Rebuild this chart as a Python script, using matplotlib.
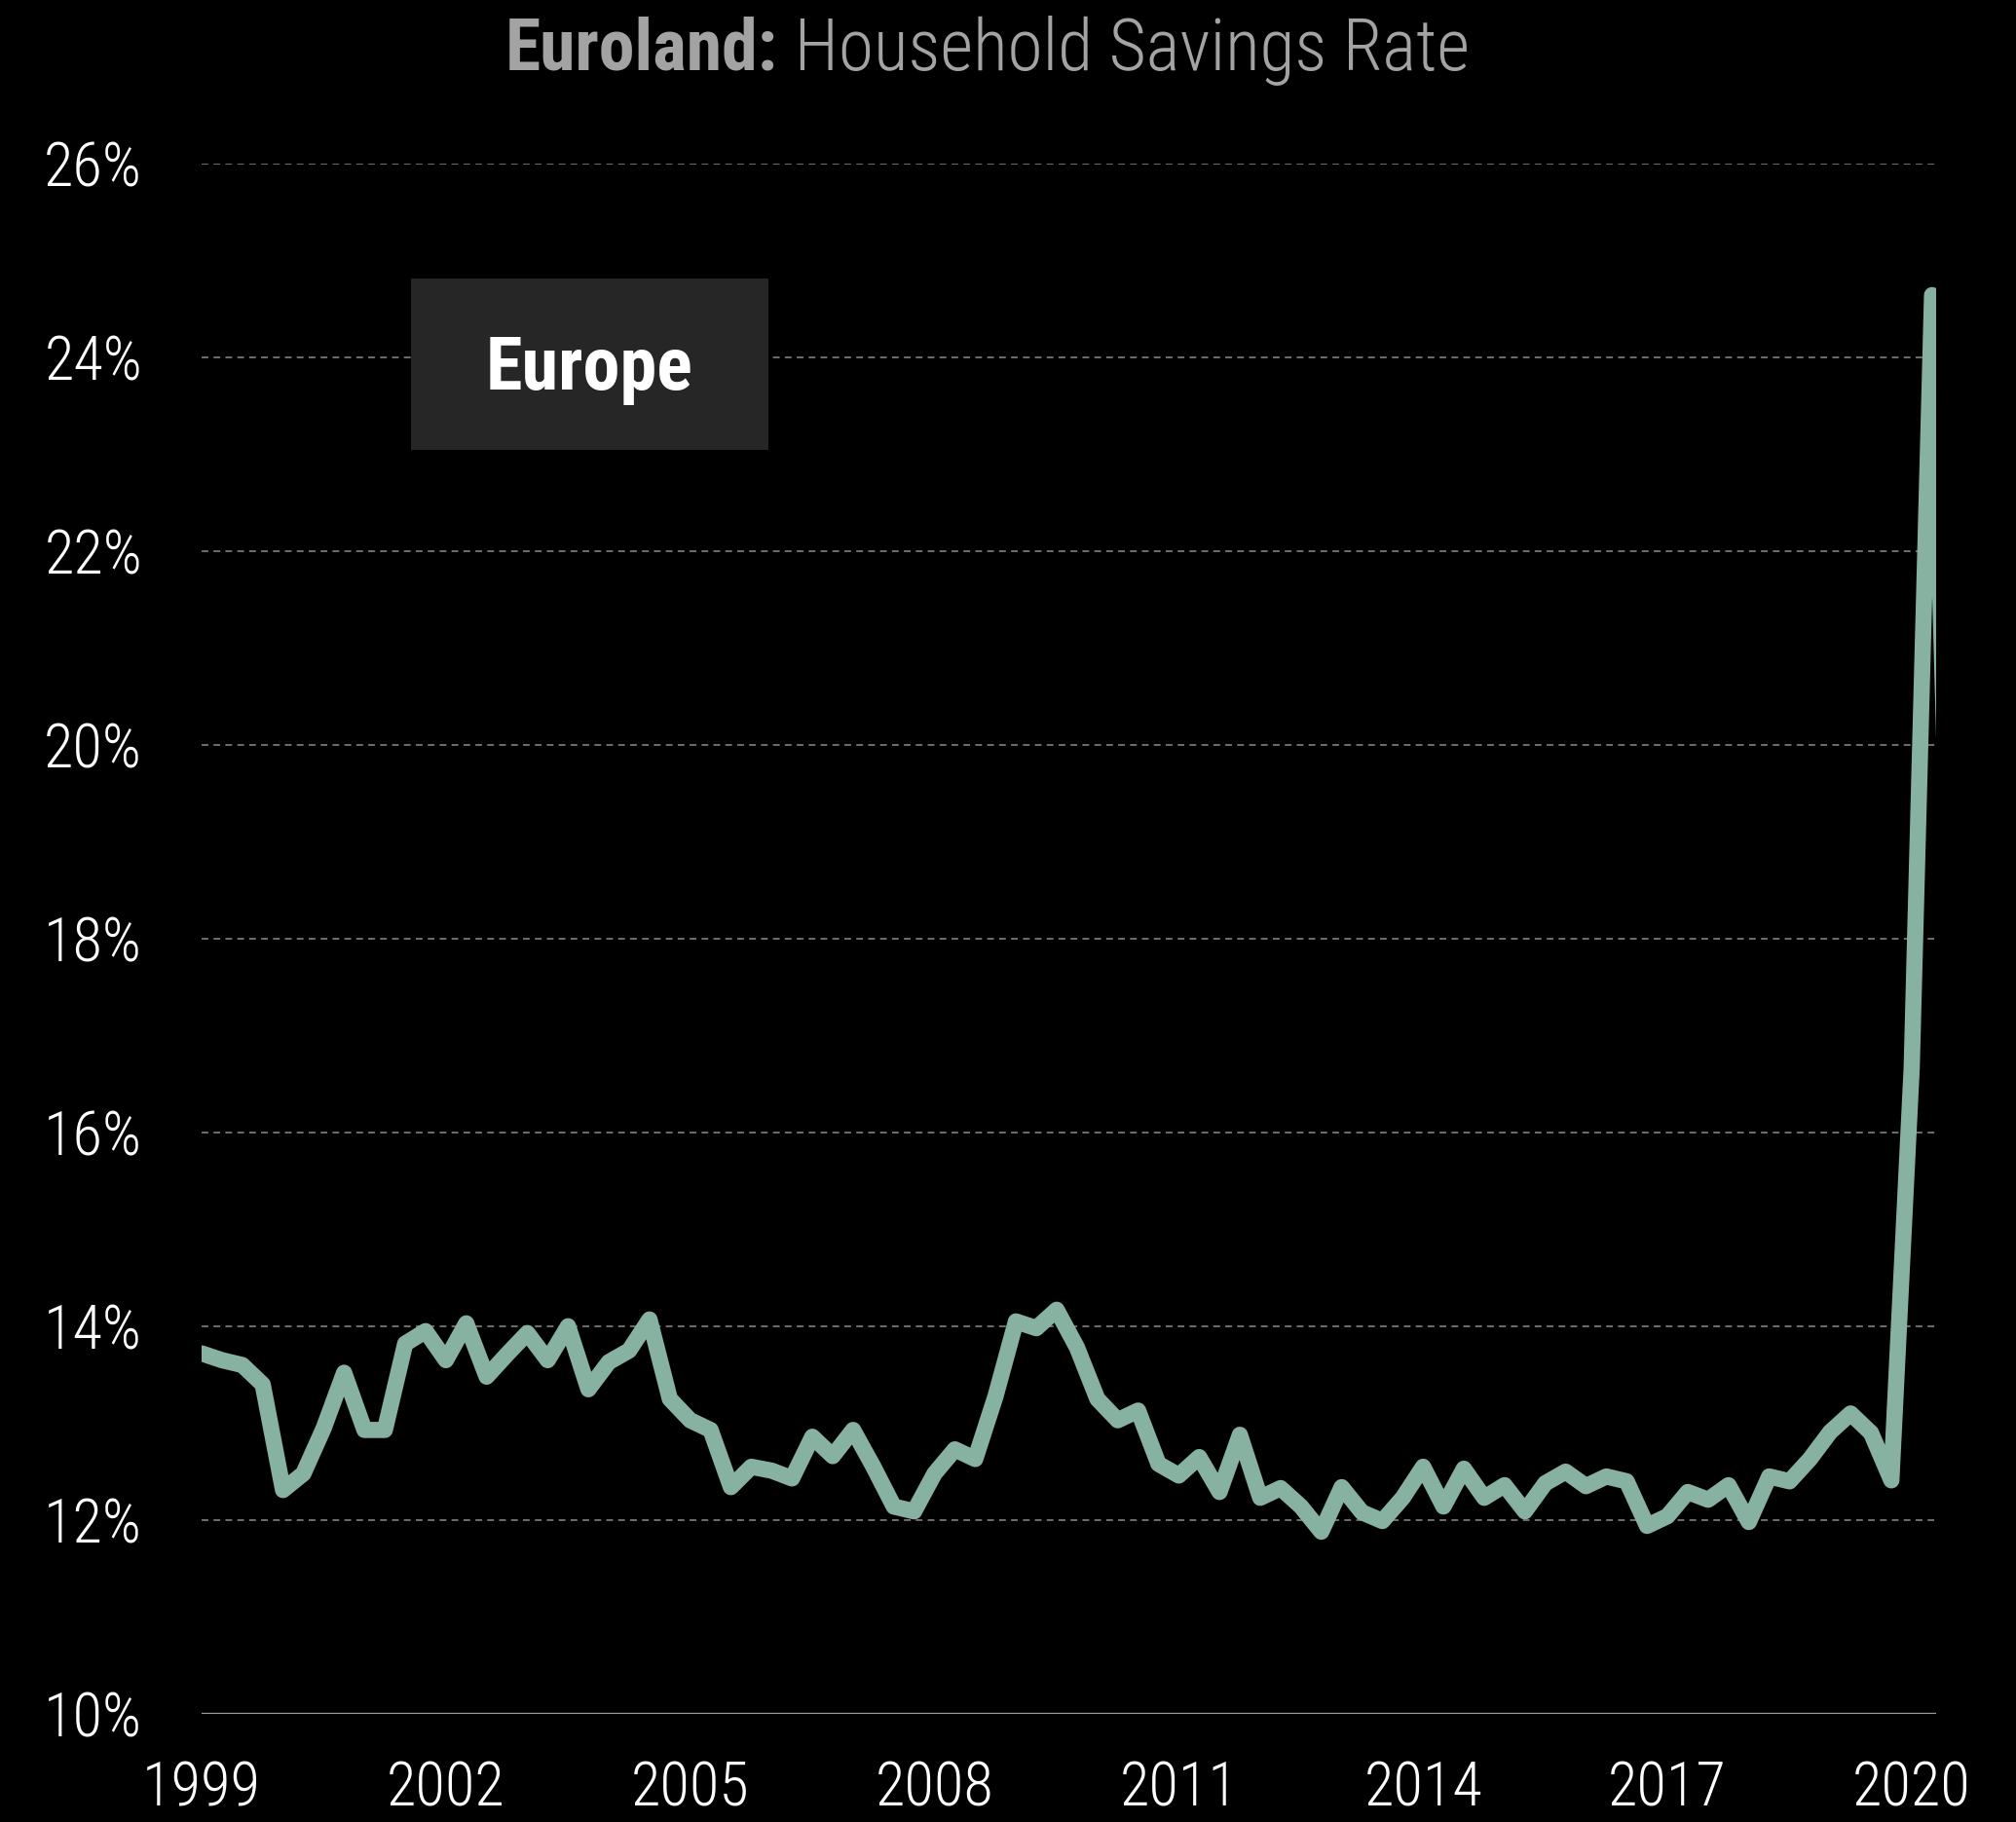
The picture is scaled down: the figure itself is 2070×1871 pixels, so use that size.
import matplotlib
matplotlib.use("Agg")
import matplotlib.pyplot as plt
from matplotlib import font_manager as fm
import numpy as np

# ---------------- data ----------------
start_year = 1999
savings_rate = [
    13.72, 13.65, 13.60, 13.40, 12.31, 12.48, 12.95, 13.52,   # 1999-2000
    12.93, 12.93, 13.82, 13.95, 13.65, 14.03, 13.48, 13.71,   # 2001-2002
    13.93, 13.65, 14.00, 13.35, 13.63, 13.75, 14.07, 13.25,   # 2003-2004
    13.03, 12.93, 12.34, 12.55, 12.51, 12.43, 12.86, 12.66,   # 2005-2006
    12.93, 12.55, 12.14, 12.09, 12.48, 12.73, 12.63, 13.28,   # 2007-2008
    14.05, 13.98, 14.17, 13.78, 13.25, 13.03, 13.13, 12.58,   # 2009-2010
    12.46, 12.65, 12.29, 12.88, 12.23, 12.33, 12.14, 11.88,   # 2011-2012
    12.34, 12.08, 11.99, 12.23, 12.55, 12.14, 12.53, 12.23,   # 2013-2014
    12.36, 12.09, 12.38, 12.50, 12.35, 12.45, 12.40, 11.94,   # 2015-2016
    12.04, 12.29, 12.21, 12.36, 11.98, 12.45, 12.40, 12.63,   # 2017-2018
    12.91, 13.10, 12.90, 12.41, 16.67, 24.64, 17.00,          # 2019-2020
]
year_ticks = [1999, 2002, 2005, 2008, 2011, 2014, 2017, 2020]
pct_ticks = [10, 12, 14, 16, 18, 20, 22, 24, 26]
series_label = "Europe"
title_bold = "Euroland:"
title_rest = "Household Savings Rate"

# ---------------- fonts ----------------
available = {f.name for f in fm.fontManager.ttflist}
cond = None
for cand in ["Roboto Condensed", "Liberation Sans Narrow", "Open Sans Condensed",
             "DejaVu Sans Condensed", "Noto Sans Condensed", "Liberation Sans"]:
    if cand in available:
        cond = cand
        break
if cond is None:
    cond = "DejaVu Sans"
stretch = "condensed" if cond in ("DejaVu Sans",) else "normal"

# ---------------- figure ----------------
W, H, DPI = 2070, 1871, 100
fig = plt.figure(figsize=(W / DPI, H / DPI), dpi=DPI, facecolor="black")
ax = fig.add_axes([207 / W, 1 - 1760 / H, (1988 - 207) / W, (1760 - 167.7) / H])
ax.set_facecolor("black")

x = start_year + np.arange(len(savings_rate)) / 4.0
ax.plot(x, savings_rate, color="#87b1a0", lw=12.0, solid_capstyle="round",
        solid_joinstyle="round", zorder=3)

ax.set_xlim(1999, 2020.30)
ax.set_ylim(10, 26)

for v in pct_ticks:
    if v == 10:
        ax.axhline(v, color="#9a9a9a", lw=2.4, zorder=2)
    else:
        ax.axhline(v, color="#8c8c8c", lw=1.1, ls=(0, (4.5, 3.5)), zorder=1)

ax.set_xticks(year_ticks)
ax.set_xticklabels([str(y) for y in year_ticks])
ax.set_yticks(pct_ticks)
ax.set_yticklabels([f"{v}%" for v in pct_ticks])
ax.tick_params(axis="both", length=0, colors="white", labelsize=45)
ax.tick_params(axis="y", pad=44)
ax.tick_params(axis="x", pad=34)
for lab in ax.get_xticklabels() + ax.get_yticklabels():
    lab.set_fontfamily(cond)
    lab.set_fontstretch(stretch)
    lab.set_fontweight("light")
for s in ax.spines.values():
    s.set_visible(False)

# legend-like label box
box_x0, box_y0, box_x1, box_y1 = 422, 286, 789, 462
fig.patches.append(plt.Rectangle((box_x0 / W, 1 - box_y1 / H), (box_x1 - box_x0) / W,
                                 (box_y1 - box_y0) / H, transform=fig.transFigure,
                                 facecolor="#262626", edgecolor="none", zorder=5))
fig.text((box_x0 + box_x1) / 2 / W, 1 - ((box_y0 + box_y1) / 2 + 6) / H, series_label,
         ha="center", va="center", color="white", fontsize=55, fontweight="bold",
         family=cond, fontstretch=stretch, zorder=6)

# title in two weights, centred as a whole
ty = 1 - 52 / H
t1 = fig.text(0.5, ty, title_bold, ha="left", va="center", color="#a3a3a3",
              fontsize=53, fontweight="bold", family=cond, fontstretch=stretch)
t2 = fig.text(0.5, ty, " " + title_rest, ha="left", va="center", color="#a3a3a3",
              fontsize=53, fontweight="light", family=cond, fontstretch=stretch)
fig.canvas.draw()
r = fig.canvas.get_renderer()
w1 = t1.get_window_extent(r).width
w2 = t2.get_window_extent(r).width
center_px = 1014
x1 = center_px - (w1 + w2) / 2
t1.set_x(x1 / W)
t2.set_x((x1 + w1) / W)

fig.savefig("out.png", dpi=DPI, facecolor="black")
